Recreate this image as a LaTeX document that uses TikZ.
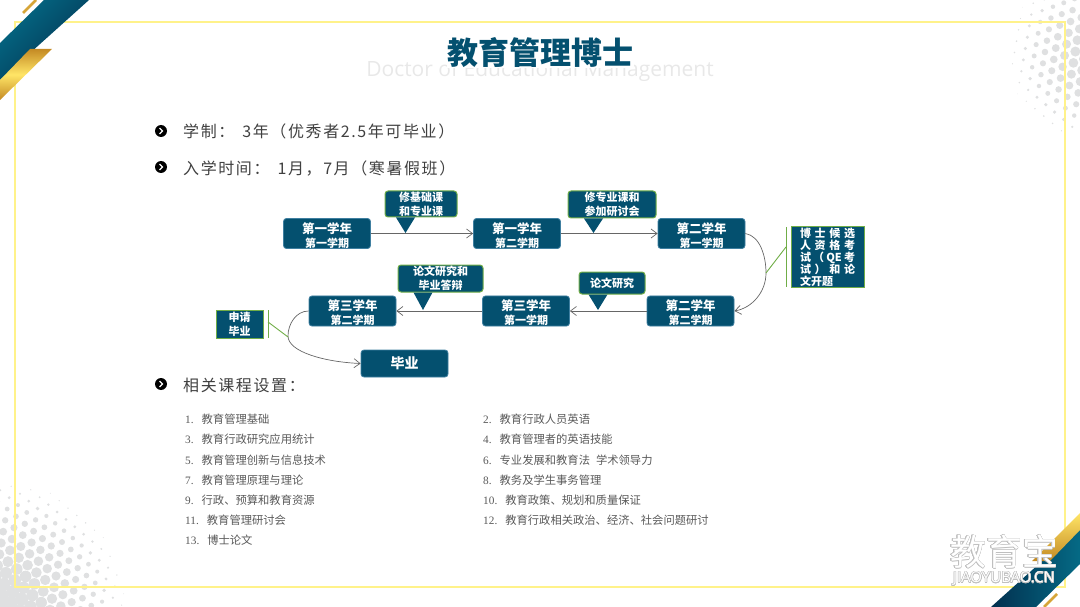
\documentclass[tikz,border=0pt]{standalone}
\usepackage{fontspec}
\usepackage{contour}
\setmainfont{Noto Sans CJK SC}
\newfontfamily\latinserif{Liberation Serif}
\newfontfamily\latinsans{Open Sans}
\usetikzlibrary{positioning,arrows.meta}

\definecolor{teal}{HTML}{04506F}
\definecolor{tealdark}{HTML}{02304F}
\definecolor{tealmid}{HTML}{056A85}
\definecolor{leaf}{HTML}{70AD47}
\definecolor{boxrim}{HTML}{3F7FA0}
\definecolor{frame}{HTML}{FFF28A}
\definecolor{dotgray}{HTML}{DFE0E1}
\definecolor{goldlight}{HTML}{FFE566}
\definecolor{golddark}{HTML}{C48A24}

\tikzset{
  term/.style={draw=boxrim,line width=.8pt,fill=teal,rounded corners=3pt,text=white,
    minimum width=87pt,minimum height=30pt,inner sep=0pt,align=center,font=\bfseries},
  remark/.style={draw=leaf,line width=1pt,fill=teal,rounded corners=3pt,
    text=white,inner sep=0pt,align=center,font=\fontsize{11}{14}\selectfont\bfseries},
  sidebox/.style={draw=leaf,line width=1pt,fill=teal,text=white,inner sep=0pt,align=center,
    font=\fontsize{11}{12}\selectfont\bfseries},
  flow/.style={draw=black!60,line width=.7pt,-{Straight Barb[length=6pt,width=9pt]}},
  brace/.style={draw=leaf,line width=.9pt},
  course/.style={anchor=west,inner sep=0pt,text height=10pt,text depth=1pt,text=black!65,
    font=\fontsize{11.3}{12}\selectfont},
  headline/.style={anchor=west,inner sep=0pt,text=black!75,
    font=\fontsize{16}{18}\selectfont\addfontfeature{LetterSpace=10}},
  bullet/.style={circle,fill=black,minimum size=12pt,inner sep=0pt},
  dot/.style={fill=dotgray}
}
\newcommand{\twolines}[2]{{\fontsize{12.5}{15}\selectfont\rule{0pt}{15pt}#1}\\[2pt]{\fontsize{11}{13}\selectfont #2}}
\newcommand{\num}[1]{{\latinserif #1}}
\newcommand{\spread}[1]{\makebox[55pt][s]{#1}}
\newcommand{\tipmark}[2]{\fill[teal] (#2) -- ([xshift=-9.5pt]#1.south -| #2) -- ([xshift=9.5pt]#1.south -| #2) -- cycle;}

\begin{document}
\begin{tikzpicture}[x=1pt,y=-1pt]
  \useasboundingbox (0,0) rectangle (1080,607);
  \clip (0,0) rectangle (1080,607);

  % dots
  \foreach \i in {-12,...,12}
    \foreach \j in {-12,...,12} {
      \pgfmathsetmacro\dx{11.5*(\i+.5*\j)*cos(20)+11.5*.866*\j*sin(20)}
      \pgfmathsetmacro\dy{-11.5*(\i+.5*\j)*sin(20)+11.5*.866*\j*cos(20)}
      \pgfmathsetmacro\dd{veclen(\dx,\dy)}
      \pgfmathsetmacro\rr{\dd<130 ? 7*(1-(\dd/130)^1.5) : 0}
      \ifdim\rr pt>.3pt \fill[dot] (\dx,607+\dy) circle[radius=\rr]; \fi
      \pgfmathsetmacro\rs{\dd<90 ? 5.6*(1-(\dd/90)^1.5) : 0}
      \ifdim\rs pt>.3pt \fill[dot] (1095+\dx,55+\dy) circle[radius=\rs]; \fi
    }

  % frame
  \draw[frame,line width=1.2pt] (15,22) rectangle (1065,587);

  % corners
  \shade[left color=tealmid,right color=tealdark,shading angle=45] (44,0) -- (89,0) -- (0,80) -- (0,43) -- cycle;
  \shade[top color=golddark,bottom color=golddark,middle color=goldlight] (30,49) -- (52,49) -- (0,100) -- (0,80) -- cycle;
  \draw[golddark!70!goldlight,line width=2.5pt] (23,13) -- (36,0);
  \shade[left color=tealdark,right color=tealmid] (1036,607) -- (991,607) -- (1080,527) -- (1080,564) -- cycle;
  \shade[top color=goldlight,bottom color=golddark] (1032,561) -- (1080,513) -- (1080,530) -- (1050,561) -- cycle;
  \draw[golddark!70!goldlight,line width=2.5pt] (1044,607) -- (1057,594);

  % title
  \node (subtitle) at (540,70.5) [inner sep=0pt,text=black!9,font=\latinsans\fontsize{21}{24}\selectfont] {Doctor of Educational Management};
  \node (title) at (540,53) [fill=white,inner sep=0pt,minimum width=187pt,minimum height=28pt,text=teal,font=\fontsize{31}{33}\selectfont\bfseries] {教育管理博士};

  % headlines
  \node (bulletA) at (161,131) [bullet] {};
  \node (bulletB) at (161,167) [bullet] {};
  \node (bulletC) at (161,384) [bullet] {};
  \foreach \b in {bulletA,bulletB,bulletC}
    \draw[white,line width=1.3pt] ([xshift=-1.5pt,yshift=-3pt]\b.center) -- ([xshift=1.5pt]\b.center) -- ([xshift=-1.5pt,yshift=3pt]\b.center);
  \node (study) at (183,131.5) [headline] {学制：\hspace{8pt}3年（优秀者2.5年可毕业）};
  \node (entry) at (183,169) [headline] {入学时间：\hspace{8pt}1月，7月（寒暑假班）};
  \node (related) at (183,385) [headline] {相关课程设置：};

  % terms
  \node (yaa) at (327,233.5) [term] {\twolines{第一学年}{第一学期}};
  \node (yab) at (517,233.5) [term] {\twolines{第一学年}{第二学期}};
  \node (yba) at (701.5,233.5) [term] {\twolines{第二学年}{第一学期}};
  \node (ybb) at (690.5,311) [term] {\twolines{第二学年}{第二学期}};
  \node (yca) at (526,311) [term] {\twolines{第三学年}{第一学期}};
  \node (ycb) at (352.5,311) [term] {\twolines{第三学年}{第二学期}};
  \node (done) at (404.5,363.5) [term,minimum height=27pt,font=\fontsize{14}{16}\selectfont\bfseries] {毕业};

  % flow
  \draw[flow] (yaa.east) -- (yab.west);
  \draw[flow] (yab.east) -- (yba.west);
  \draw[flow] (yba.east) .. controls (760,236) and (766,256) .. (766,273) .. controls (766,292) and (752,308) .. (ybb.east);
  \draw[flow] (ybb.west) -- (yca.east);
  \draw[flow] (yca.west) -- (ycb.east);
  \draw[flow] (ycb.west) .. controls (296,311) and (288,324) .. (288,336) .. controls (288,352) and (325,362) .. (done.west);

  % remarks
  \coordinate (tipa) at (405.5,233);
  \coordinate (tipb) at (593.5,233);
  \coordinate (tipc) at (598,310);
  \coordinate (tipd) at (423,310);
  \node (basic) at (421,204) [remark,minimum width=72pt,minimum height=26pt] {修基础课\\和专业课};
  \node (major) at (612,204.5) [remark,minimum width=88pt,minimum height=27pt] {修专业课和\\参加研讨会};
  \node (thesis) at (612,283) [remark,minimum width=66pt,minimum height=22pt] {论文研究};
  \node (defence) at (440.5,278.5) [remark,minimum width=85pt,minimum height=27pt] {论文研究和\\毕业答辩};
  \tipmark{basic}{tipa}
  \tipmark{major}{tipb}
  \tipmark{thesis}{tipc}
  \tipmark{defence}{tipd}

  % side notes
  \node (qe) at (827.5,257) [sidebox,minimum width=73pt,minimum height=60pt]
    {\spread{博\hfil 士\hfil 候\hfil 选}\\\spread{人\hfil 资\hfil 格\hfil 考}\\\spread{试\hfil （\hfil QE\hfil 考}\\\spread{试\hfil ）\hfil 和\hfil 论}\\\spread{文开题\hfil}};
  \coordinate (qeleft) at (786,227);
  \coordinate (qeright) at (786,287);
  \coordinate (qemid) at (786,247);
  \coordinate (qecurve) at (766,273);
  \draw[brace] (qeleft) -- (qeright);
  \draw[brace] (qemid) -- (qecurve);
  \node (apply) at (239.5,324) [sidebox,minimum width=47pt,minimum height=28pt,font=\fontsize{11}{14}\selectfont\bfseries] {申请\\毕业};
  \coordinate (appt) at (268,310);
  \coordinate (appb) at (268,338);
  \coordinate (appm) at (268,322);
  \coordinate (appc) at (288,337);
  \draw[brace] (appt) -- (appb);
  \draw[brace] (appm) -- (appc);

  % courses
  \node (ca) at (185,419) [course] {\num{1.}\hspace{8pt}教育管理基础};
  \node (cc) at (185,439) [course] {\num{3.}\hspace{8pt}教育行政研究应用统计};
  \node (ce) at (185,460) [course] {\num{5.}\hspace{8pt}教育管理创新与信息技术};
  \node (cg) at (185,480) [course] {\num{7.}\hspace{8pt}教育管理原理与理论};
  \node (ci) at (185,500) [course] {\num{9.}\hspace{8pt}行政、预算和教育资源};
  \node (ck) at (185,520) [course] {\num{11.}\hspace{8pt}教育管理研讨会};
  \node (cm) at (185,540) [course] {\num{13.}\hspace{8pt}博士论文};
  \node (cb) at (483,419) [course] {\num{2.}\hspace{8pt}教育行政人员英语};
  \node (cd) at (483,439) [course] {\num{4.}\hspace{8pt}教育管理者的英语技能};
  \node (cf) at (483,460) [course] {\num{6.}\hspace{8pt}专业发展和教育法\hspace{6pt}学术领导力};
  \node (ch) at (483,480) [course] {\num{8.}\hspace{8pt}教务及学生事务管理};
  \node (cj) at (483,500) [course] {\num{10.}\hspace{8pt}教育政策、规划和质量保证};
  \node (cl) at (483,520) [course] {\num{12.}\hspace{8pt}教育行政相关政治、经济、社会问题研讨};

  % watermark
  \contourlength{.5pt}
  \node (markcn) at (1004,552) [inner sep=0pt,text=white,font=\fontsize{36}{38}\selectfont] {\contour{black!25}{教育宝}};
  \node (markla) at (1004,579) [inner sep=0pt,text=white,font=\latinsans\fontsize{15}{17}\selectfont] {\contour{black!25}{JIAOYUBAO.CN}};
\end{tikzpicture}
\end{document}
